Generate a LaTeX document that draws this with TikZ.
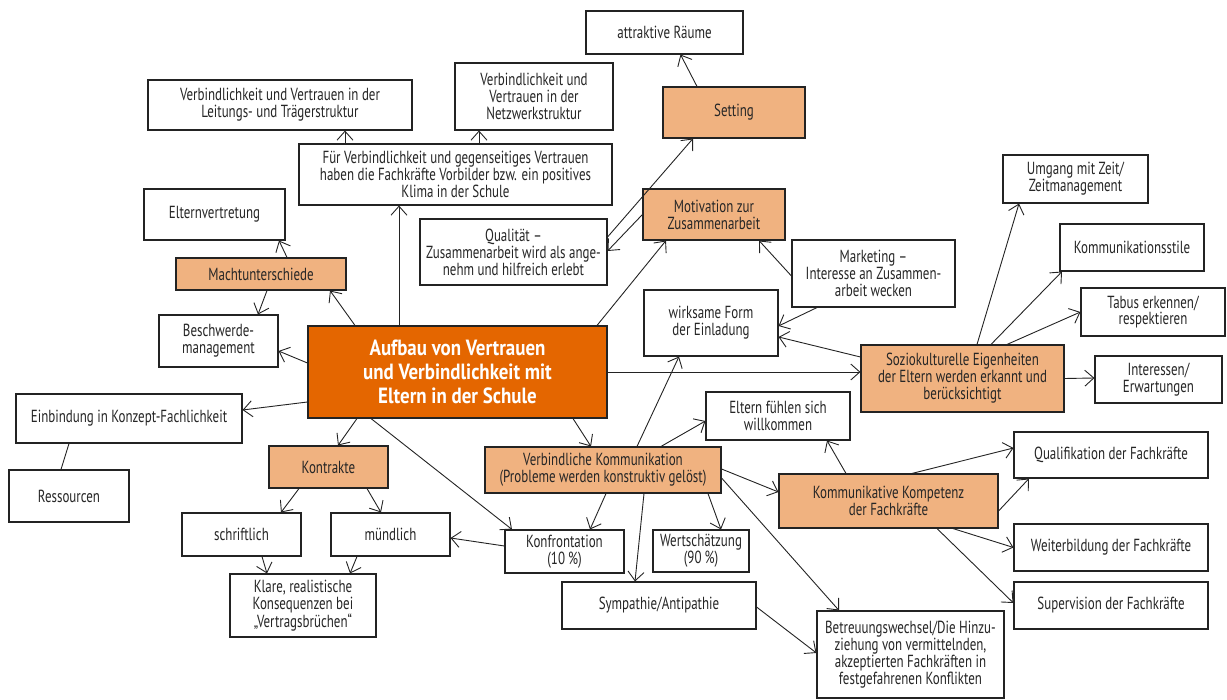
\documentclass[tikz,border=0pt]{standalone}
\usepackage{fontspec}
\setmainfont{PT Sans}[FakeStretch=0.74]
\newfontfamily\corefont{PT Sans}[FakeStretch=0.86]
\usetikzlibrary{arrows.meta}
\definecolor{node_orange}{RGB}{228,102,0}
\definecolor{node_peach}{RGB}{240,178,128}
\definecolor{edge_gray}{RGB}{35,35,35}

\begin{document}
\begin{tikzpicture}[x=1pt,y=-1pt,->,line width=0.9pt,draw=edge_gray,>={Straight Barb[length=9pt,width=16pt]}]
    \tikzstyle{box}=[draw=edge_gray, line width=1.1pt, fill=white, align=center, inner sep=0pt, text=black!85, font=\fontsize{17.5}{16.9}\selectfont]
    \tikzstyle{sub}=[style=box, fill=node_peach]
    \tikzstyle{core}=[style=box, fill=node_orange, text=white, font=\corefont\fontsize{22}{24}\selectfont\bfseries]

    \useasboundingbox (0,0) rectangle (1227,700);

    % centre
    \node[core, minimum width=299pt, minimum height=92pt] (main) at (457.5,372) {Aufbau von Vertrauen\\und Verbindlichkeit mit\\Eltern in der Schule};

    % oben
    \node[box, minimum width=157pt, minimum height=43pt] (raeume) at (664.5,32.5) {attraktive Räume};
    \node[sub, minimum width=142pt, minimum height=51pt] (setting) at (734,112.5) {Setting};
    \node[box, minimum width=158pt, minimum height=67pt] (netz) at (534,96.5) {Verbindlichkeit und\\Vertrauen in der\\Netzwerkstruktur};
    \node[box, minimum width=264pt, minimum height=50pt] (leitung) at (280,105) {Verbindlichkeit und Vertrauen in der\\Leitungs- und Trägerstruktur};
    \node[box, minimum width=313pt, minimum height=61pt] (vorbild) at (455.5,174.5) {Für Verbindlichkeit und gegenseitiges Vertrauen\\haben die Fachkräfte Vorbilder bzw. ein positives\\Klima in der Schule};
    \node[box, minimum width=187pt, minimum height=66pt] (qualitaet) at (513.5,252) {Qualität --\\Zusammenarbeit wird als ange-\\nehm und hilfreich erlebt};
    \node[sub, minimum width=142pt, minimum height=51pt] (motivation) at (714,214.5) {Motivation zur\\Zusammenarbeit};
    \node[box, minimum width=163pt, minimum height=67pt] (marketing) at (873.5,273.5) {Marketing --\\Interesse an Zusammen-\\arbeit wecken};
    \node[box, minimum width=134pt, minimum height=66pt] (einladung) at (711,323) {wirksame Form\\der Einladung};

    % links
    \node[box, minimum width=141pt, minimum height=51pt] (elternv) at (214.5,214.5) {Elternvertretung};
    \node[sub, minimum width=170pt, minimum height=32pt] (macht) at (261,274) {Machtunterschiede};
    \node[box, minimum width=119pt, minimum height=52pt] (beschwerde) at (218.5,341) {Beschwerde-\\management};
    \node[box, minimum width=226pt, minimum height=49pt] (einbindung) at (129,418.5) {Einbindung in Konzept-Fachlichkeit};
    \node[box, minimum width=120pt, minimum height=52pt] (ressourcen) at (69,496) {Ressourcen};
    \node[sub, minimum width=119pt, minimum height=42pt] (kontrakte) at (328.5,467) {Kontrakte};
    \node[box, minimum width=119pt, minimum height=43pt] (schriftlich) at (241.5,534.5) {schriftlich};
    \node[box, minimum width=119pt, minimum height=43pt] (muendlich) at (390.5,534.5) {mündlich};
    \node[box, minimum width=146pt, minimum height=63pt] (klare) at (303,605.5) {Klare, realistische\\Konsequenzen bei\\„Vertragsbrüchen“};

    % rechts
    \node[sub, minimum width=203pt, minimum height=67pt] (sozio) at (962.5,378.5) {Soziokulturelle Eigenheiten\\der Eltern werden erkannt und\\berücksichtigt};
    \node[box, minimum width=145pt, minimum height=48pt] (zeit) at (1075.5,179) {Umgang mit Zeit/\\Zeitmanagement};
    \node[box, minimum width=144pt, minimum height=47pt] (stile) at (1132,247.5) {Kommunikationsstile};
    \node[box, minimum width=144pt, minimum height=48pt] (tabus) at (1153,312) {Tabus erkennen/\\respektieren};
    \node[box, minimum width=127pt, minimum height=47pt] (interessen) at (1158.5,379.5) {Interessen/\\Erwartungen};

    % unten
    \node[sub, minimum width=236pt, minimum height=46pt] (kommunikation) at (603,470) {Verbindliche Kommunikation\\(Probleme werden konstruktiv gelöst)};
    \node[box, minimum width=144pt, minimum height=48pt] (willkommen) at (778,416) {Eltern fühlen sich\\willkommen};
    \node[sub, minimum width=219pt, minimum height=54pt] (kompetenz) at (888.5,501) {Kommunikative Kompetenz\\der Fachkräfte};
    \node[box, minimum width=119pt, minimum height=43pt] (konfrontation) at (564.5,551.5) {Konfrontation\\(10\,\%)};
    \node[box, minimum width=96pt, minimum height=42pt] (wert) at (701,551) {Wertschätzung\\(90\,\%)};
    \node[box, minimum width=194pt, minimum height=47pt] (sympathie) at (659,605.5) {Sympathie/Antipathie};
    \node[box, minimum width=187pt, minimum height=87pt] (betreuung) at (910.5,654.5) {Betreuungswechsel/Die Hinzu-\\ziehung von vermittelnden,\\akzeptierten Fachkräften in\\festgefahrenen Konflikten};
    \node[box, minimum width=194pt, minimum height=46pt] (qualifikation) at (1111,455) {Qualifikation der Fachkräfte};
    \node[box, minimum width=194pt, minimum height=47pt] (weiterbildung) at (1111,547.5) {Weiterbildung der Fachkräfte};
    \node[box, minimum width=194pt, minimum height=47pt] (supervision) at (1111,605.5) {Supervision der Fachkräfte};

    \path
     ([xshift=-37pt]setting.north) edge ([xshift=16pt]raeume.south)
     ([xshift=-110.5pt]vorbild.north) edge ([xshift=65pt]leitung.south)
     ([xshift=23.5pt]vorbild.north) edge ([xshift=-55pt]netz.south)
     ([xshift=-58.5pt]main.north) edge ([xshift=-56.5pt]vorbild.south)
     ([xshift=-102.5pt]main.north) edge ([xshift=69pt]macht.south)
     ([xshift=26pt]macht.north) edge ([xshift=64.5pt]elternv.south)
     ([xshift=6pt]macht.south) edge ([xshift=39.5pt]beschwerde.north)
     ([yshift=9pt]main.west) edge ([yshift=-10pt]beschwerde.east)
     ([yshift=-30pt]main.west) edge ([yshift=8.5pt]einbindung.east)
     ([xshift=-60pt]einbindung.south) edge[-] ([xshift=-8pt]ressourcen.north)
     ([xshift=-100.5pt]main.south) edge ([xshift=9.5pt]kontrakte.north)
     ([xshift=-29.5pt]kontrakte.south) edge ([xshift=39.5pt]schriftlich.north)
     ([xshift=38.5pt]kontrakte.south) edge ([xshift=-9.5pt]muendlich.north)
     ([xshift=20.5pt]schriftlich.south) edge ([xshift=-36pt]klare.north)
     ([xshift=-33.5pt]muendlich.south) edge ([xshift=47pt]klare.north)
     ([yshift=5.5pt]konfrontation.west) edge ([yshift=-3.5pt]muendlich.east)
     ([xshift=-86.5pt]main.south) edge ([xshift=-52.5pt]konfrontation.north)
     ([xshift=115.5pt]main.south) edge ([xshift=-12pt]kommunikation.north)
     ([xshift=139.5pt]main.north) edge ([xshift=-48pt]motivation.south)
     (main.east) edge ([yshift=6.5pt]sozio.west)
     ([yshift=15pt]qualitaet.east) edge ([xshift=-41pt]setting.south)
     (motivation.west) edge ([yshift=1pt]qualitaet.east)
     ([yshift=-2.5pt]marketing.west) edge ([xshift=45pt]motivation.south)
     ([xshift=-56.5pt]marketing.south) edge ([yshift=-3pt]einladung.east)
     ([yshift=21.5pt]sozio.west) edge ([yshift=-14pt]einladung.east)
     ([xshift=34pt]kommunikation.north) edge ([xshift=-32pt]einladung.south)
     ([xshift=58pt]kommunikation.north) edge ([yshift=-5pt]willkommen.west)
     ([xshift=-42.5pt]kompetenz.north) edge ([xshift=49pt]willkommen.south)
     ([yshift=1pt]kommunikation.east) edge ([yshift=9pt]kompetenz.west)
     ([xshift=3pt]kommunikation.south) edge ([xshift=25.5pt]konfrontation.north)
     ([xshift=41pt]kommunikation.south) edge ([xshift=-24pt]sympathie.north)
     ([xshift=105pt]kommunikation.south) edge ([xshift=20pt]wert.north)
     ([yshift=-8pt]kommunikation.east) edge ([xshift=-71.5pt]betreuung.north)
     ([yshift=-1.5pt]sympathie.east) edge ([yshift=1.5pt]betreuung.west)
     ([xshift=23.5pt]kompetenz.north) edge ([yshift=7pt]qualifikation.west)
     ([yshift=-10pt]kompetenz.east) edge ([xshift=-82pt]qualifikation.south)
     ([xshift=64.5pt]kompetenz.south) edge (weiterbildung.west)
     ([xshift=48.5pt]kompetenz.south) edge ([yshift=2.5pt]supervision.west)
     ([xshift=14.5pt]sozio.north) edge ([xshift=-56.5pt]zeit.south)
     ([xshift=28.5pt]sozio.north) edge ([xshift=-70pt]stile.south)
     ([xshift=44.5pt]sozio.north) edge (tabus.west)
     (sozio.east) edge ([yshift=1.5pt]interessen.west)
     ;
\end{tikzpicture}
\end{document}
